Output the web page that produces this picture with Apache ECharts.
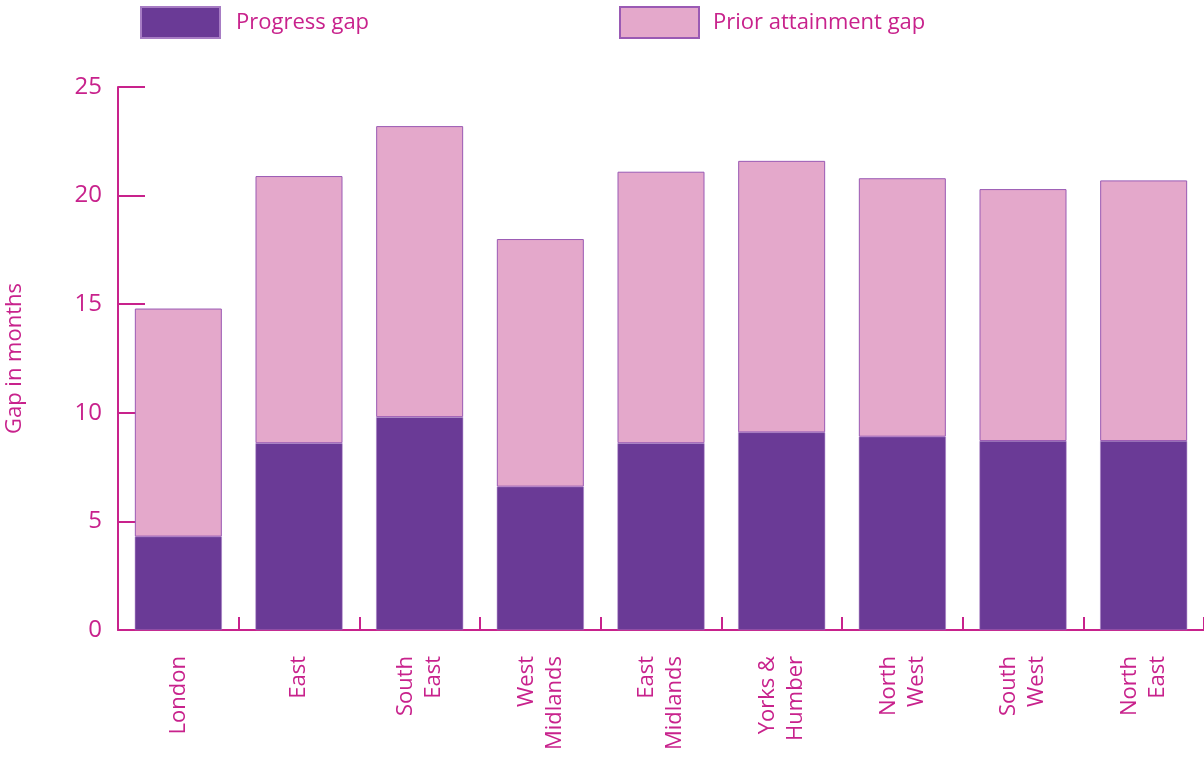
<!DOCTYPE html>
<html>
<head>
<meta charset="utf-8">
<script src="https://cdn.jsdelivr.net/npm/echarts@6/dist/echarts.min.js"></script>
<style>
  html, body { margin: 0; padding: 0; background: #fff; }
  #chart { width: 1204px; height: 758px; }
</style>
</head>
<body>
<div id="chart"></div>
<script>
// regions along the x axis
const regions = ["London", "East", "South\nEast", "West\nMidlands", "East\nMidlands",
    "Yorks &\nHumber", "North\nWest", "South\nWest", "North\nEast"];
// gap in months
const progressGap = [4.3, 8.6, 9.8, 6.6, 8.6, 9.1, 8.9, 8.7, 8.7];
const priorGap = [10.5, 12.3, 13.4, 11.4, 12.5, 12.5, 11.9, 11.6, 12.0];
const yTicks = [0, 5, 10, 15, 20, 25];

const pink = "#c8228c";
const font = "Open Sans";

const chart = echarts.init(document.getElementById("chart"));

chart.setOption({
    animation: false,
    textStyle: { fontFamily: font },
    legend: [
        {
            data: ["Progress gap"],
            left: 135, top: 1,
            itemWidth: 79, itemHeight: 31, itemGap: 0,
            icon: "rect",
            textStyle: { color: pink, fontSize: 22, fontFamily: font, padding: [0, 0, 0, 11] }
        },
        {
            data: ["Prior attainment gap"],
            left: 614, top: 1,
            itemWidth: 79, itemHeight: 31, itemGap: 0,
            icon: "rect",
            textStyle: { color: pink, fontSize: 22, fontFamily: font, padding: [0, 0, 0, 9] }
        }
    ],
    grid: { left: 118, right: 0, top: 87, bottom: 128, containLabel: false, outerBoundsMode: "none" },
    xAxis: {
        type: "category",
        data: regions,
        axisLine: { lineStyle: { color: pink, width: 2 } },
        axisTick: { show: true, inside: true, length: 13, lineStyle: { color: pink, width: 2 } },
        axisLabel: {
            rotate: 90,
            margin: 26,
            color: pink,
            fontSize: 22,
            lineHeight: 28,
            fontFamily: font,
            interval: 0
        }
    },
    yAxis: {
        type: "value",
        min: yTicks[0],
        max: yTicks[yTicks.length - 1],
        interval: 5,
        name: "Gap in months",
        nameLocation: "middle",
        nameGap: 92,
        nameTextStyle: { color: pink, fontSize: 22, fontFamily: font },
        axisLine: { show: true, lineStyle: { color: pink, width: 2 } },
        axisTick: { show: true, inside: true, length: 27, lineStyle: { color: pink, width: 2 } },
        axisLabel: { color: pink, fontSize: 24, margin: 16, fontFamily: font },
        splitLine: { show: false }
    },
    series: [
        {
            name: "Progress gap",
            type: "bar",
            stack: "gap",
            barWidth: 87,
            data: progressGap,
            itemStyle: { color: "#6a3a96", borderColor: "#a77cc4", borderWidth: 0.5 }
        },
        {
            name: "Prior attainment gap",
            type: "bar",
            stack: "gap",
            barWidth: 87,
            data: priorGap,
            itemStyle: { color: "#e4a8cb", borderColor: "#9a5ab4", borderWidth: 1 }
        }
    ]
});
</script>
</body>
</html>
